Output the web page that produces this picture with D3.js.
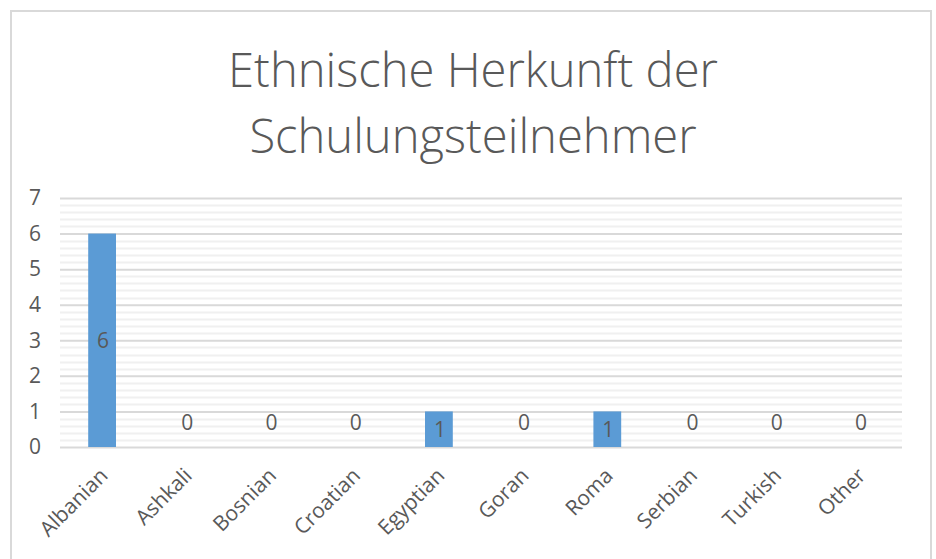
<!DOCTYPE html>
<html>
<head>
<meta charset="utf-8">
<script src="https://cdn.jsdelivr.net/npm/d3@7"></script>
<style>
  body { margin: 0; background: #fff; }
  text { font-family: "Open Sans", "Liberation Sans", sans-serif; fill: #595959; }
</style>
</head>
<body>
<div id="chart"></div>
<script>
var title_lines = ['Ethnische Herkunft der', 'Schulungsteilnehmer'];
var categories = ['Albanian', 'Ashkali', 'Bosnian', 'Croatian', 'Egyptian',
                  'Goran', 'Roma', 'Serbian', 'Turkish', 'Other'];
var counts = [6, 0, 0, 0, 1, 0, 1, 0, 0, 0];
var y_ticks = [0, 1, 2, 3, 4, 5, 6, 7];

var outer_width = 936, outer_height = 559;
var margin = { top: 198, left: 60, bottom: 112, right: 34 };
var width = outer_width - margin.left - margin.right;
var height = outer_height - margin.top - margin.bottom;

var svg = d3.select('#chart').append('svg')
    .attr('width', outer_width)
    .attr('height', outer_height);

// chart frame
svg.append('rect')
    .attr('x', 11).attr('y', 11)
    .attr('width', 920).attr('height', 560)
    .attr('fill', 'none')
    .attr('stroke', '#d9d9d9')
    .attr('stroke-width', 2);

// title
var title = svg.append('text')
    .attr('text-anchor', 'middle')
    .attr('font-weight', 300)
    .attr('font-size', 50);
title_lines.forEach(function(t, i) {
    title.append('tspan')
        .attr('x', 473)
        .attr('y', 87 + i * 66)
        .text(t);
});

var sx = d3.scaleBand()
    .domain(categories)
    .range([0, width])
    .paddingInner(0.67)
    .paddingOuter(0.335);
var sy = d3.scaleLinear()
    .domain([0, 7])
    .range([height, 0]);

var g = svg.append('g')
    .attr('transform', 'translate(' + margin.left + ', ' + margin.top + ')');

// minor gridlines every 0.2
var minor = d3.range(0, 35).map(function(i) { return i / 5; })
    .filter(function(v) { return Math.abs(v - Math.round(v)) > 1e-6; });
g.selectAll('.minor').data(minor).enter().append('line')
    .attr('class', 'minor')
    .attr('x1', 0).attr('x2', width)
    .attr('y1', function(d) { return Math.round(sy(d)) + 0.5; })
    .attr('y2', function(d) { return Math.round(sy(d)) + 0.5; })
    .attr('stroke', '#f0f0f0')
    .attr('stroke-width', 2);

var ay = d3.axisLeft(sy)
    .tickValues(y_ticks)
    .tickSize(-width)
    .tickFormat(d3.format('d'));
var gy = g.append('g').call(ay);
gy.select('.domain').remove();
gy.selectAll('.tick line')
    .attr('stroke', '#d9d9d9')
    .attr('stroke-width', 2);
gy.selectAll('.tick text')
    .attr('x', -19)
    .attr('font-size', 21)
    .attr('fill', '#595959');

// bars
g.selectAll('.bar').data(counts).enter().append('rect')
    .attr('class', 'bar')
    .attr('x', function(d, i) { return sx(categories[i]); })
    .attr('y', function(d) { return sy(d); })
    .attr('width', sx.bandwidth())
    .attr('height', function(d) { return height - sy(d); })
    .attr('fill', '#5b9bd5');

// data labels
g.selectAll('.label').data(counts).enter().append('text')
    .attr('class', 'label')
    .attr('x', function(d, i) { return sx(categories[i]) + sx.bandwidth() / 2 + 1; })
    .attr('y', function(d) { return d > 0 ? sy(d / 2) : sy(0) - 24; })
    .attr('dy', '0.35em')
    .attr('text-anchor', 'middle')
    .attr('font-size', 21)
    .attr('fill', '#404040')
    .text(function(d) { return d; });

// x axis labels
var ax = d3.axisBottom(sx).tickSize(0);
var gx = g.append('g')
    .attr('transform', 'translate(0, ' + height + ')')
    .call(ax);
gx.select('.domain').remove();
gx.selectAll('.tick text')
    .attr('font-size', 21)
    .attr('fill', '#595959')
    .attr('text-anchor', 'end')
    .attr('dy', 0)
    .attr('y', 0)
    .attr('transform', 'translate(7, 30) rotate(-45)');

// fit title width to reference (~490px on first line)
var first = title.select('tspan').node();
var w = first.getComputedTextLength();
title.attr('font-size', 50 * 490 / w);
</script>
</body>
</html>
